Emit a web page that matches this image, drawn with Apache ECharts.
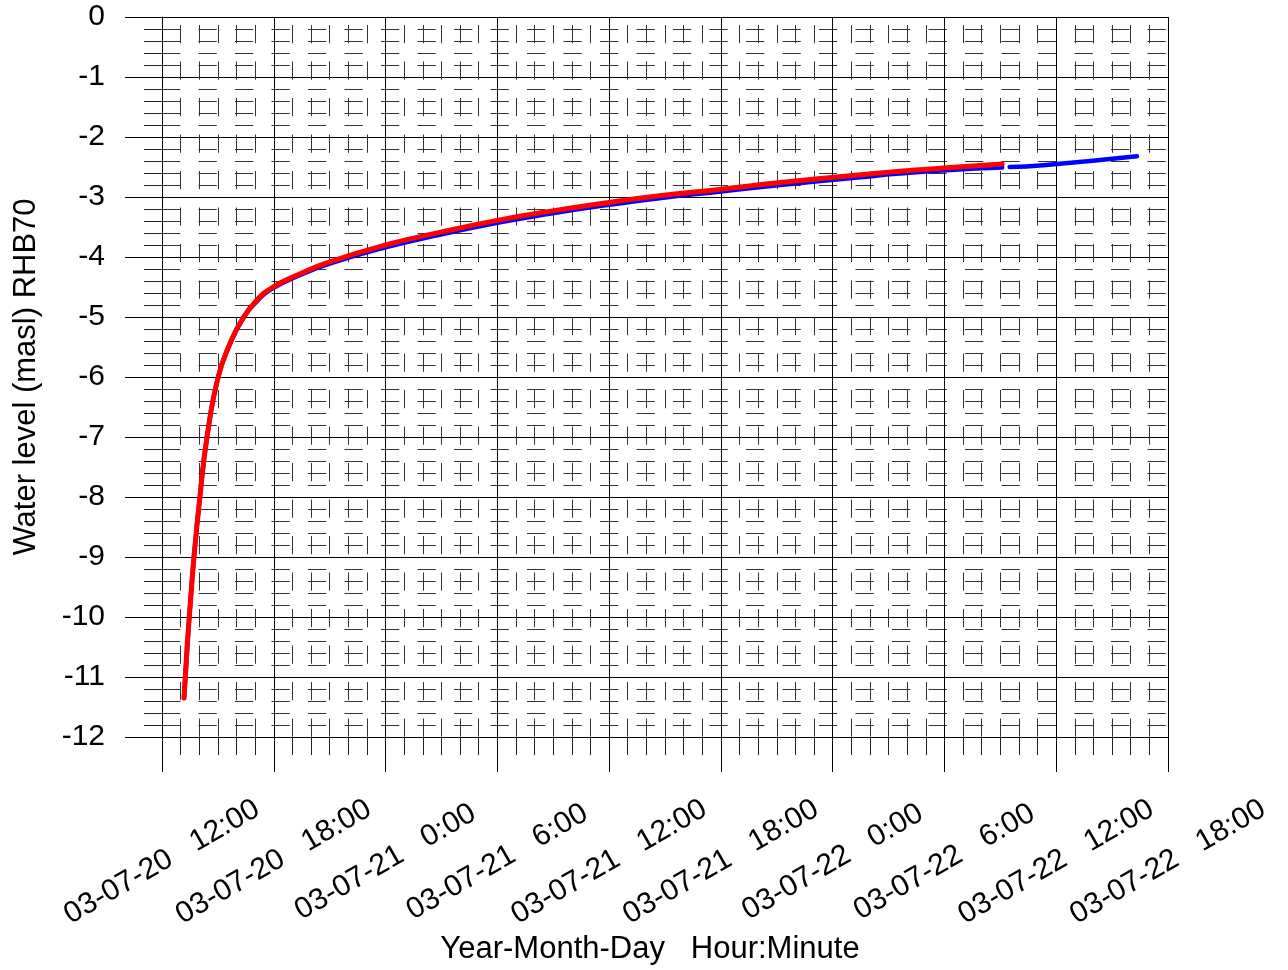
<!DOCTYPE html>
<html>
<head>
<meta charset="utf-8">
<script src="https://cdn.jsdelivr.net/npm/echarts@6/dist/echarts.min.js"></script>
<style>
html,body{margin:0;padding:0;background:#fff;}
#chart{width:1288px;height:970px;}
</style>
</head>
<body>
<div id="chart"></div>
<script>
// ---- data ----
var xTickLabels = [
  '03-07-20   12:00', '03-07-20   18:00', '03-07-21   0:00', '03-07-21   6:00',
  '03-07-21   12:00', '03-07-21   18:00', '03-07-22   0:00', '03-07-22   6:00',
  '03-07-22   12:00', '03-07-22   18:00'
];
var redTimes = [
  '2003-07-20 13:11', '2003-07-20 13:21', '2003-07-20 13:32', '2003-07-20 13:43',
  '2003-07-20 14:02', '2003-07-20 14:25', '2003-07-20 15:01', '2003-07-20 15:39',
  '2003-07-20 16:17', '2003-07-20 17:05', '2003-07-20 17:58', '2003-07-20 19:25',
  '2003-07-20 21:00', '2003-07-21 00:00', '2003-07-21 02:54', '2003-07-21 06:00',
  '2003-07-21 08:48', '2003-07-21 12:00', '2003-07-21 14:42', '2003-07-21 18:00',
  '2003-07-21 21:12', '2003-07-22 01:30', '2003-07-22 03:36', '2003-07-22 06:18',
  '2003-07-22 09:06'
];
var redLevels = [
  -11.35, -10.5, -9.72, -9.0, -8.0, -7.0, -6.0, -5.44, -5.05, -4.72, -4.50, -4.28,
  -4.08, -3.80, -3.59, -3.39, -3.24, -3.09, -2.98, -2.87, -2.76, -2.63, -2.57, -2.51,
  -2.45
];
var blueTimes = [
  '2003-07-20 13:11', '2003-07-20 13:21', '2003-07-20 13:32', '2003-07-20 13:43',
  '2003-07-20 14:02', '2003-07-20 14:25', '2003-07-20 15:01', '2003-07-20 15:39',
  '2003-07-20 16:17', '2003-07-20 17:05', '2003-07-20 17:58', '2003-07-20 19:25',
  '2003-07-20 21:00', '2003-07-21 00:00', '2003-07-21 02:54', '2003-07-21 06:00',
  '2003-07-21 08:48', '2003-07-21 12:00', '2003-07-21 14:42', '2003-07-21 18:00',
  '2003-07-21 21:12', '2003-07-22 01:30', '2003-07-22 03:36', '2003-07-22 06:18',
  '2003-07-22 09:06', '2003-07-22 09:18', '2003-07-22 09:30', '2003-07-22 11:18',
  '2003-07-22 16:20'
];
var blueLevels = [
  -11.35, -10.5, -9.72, -9.0, -8.0, -7.0, -6.0, -5.45, -5.06, -4.74, -4.52, -4.30,
  -4.11, -3.84, -3.63, -3.43, -3.28, -3.13, -3.02, -2.91, -2.80, -2.67, -2.61, -2.55,
  -2.51, null, -2.50, -2.47, -2.32
];
var axisStart = '2003-07-20 12:00';
var axisHours = 54;
var tickHours = 6;

// ---- helpers ----
function toHours(s) {
  var p = s.split(/[- :]/).map(Number);
  var b = axisStart.split(/[- :]/).map(Number);
  var t = Date.UTC(p[0], p[1] - 1, p[2], p[3], p[4]);
  var t0 = Date.UTC(b[0], b[1] - 1, b[2], b[3], b[4]);
  return (t - t0) / 3600000;
}
function pairs(times, vals) {
  return times.map(function (t, i) { return [toHours(t), vals[i]]; });
}

var FONT = 'Liberation Sans, Arial, sans-serif';
var chart = echarts.init(document.getElementById('chart'), null, {renderer: 'canvas'});
chart.setOption({
  animation: false,
  backgroundColor: '#fff',
  grid: {left: 162, top: 17, right: 120, bottom: 233},
  xAxis: {
    type: 'value',
    min: 0, max: axisHours, interval: tickHours,
    name: 'Year-Month-Day   Hour:Minute',
    nameLocation: 'middle',
    nameGap: 197,
    nameMoveOverlap: false,
    nameTextStyle: {color: '#000', fontSize: 31, fontFamily: FONT, padding: [0, 30, 0, 0]},
    axisLine: {show: true, onZero: false, lineStyle: {color: '#000', width: 1}},
    axisTick: {show: true, length: 35, lineStyle: {color: '#000', width: 1}},
    minorTick: {show: true, splitNumber: 6, length: 18, lineStyle: {color: '#222', width: 1}},
    splitLine: {show: true, lineStyle: {color: '#000', width: 1}},
    minorSplitLine: {show: true, lineStyle: {color: '#333', width: 1, type: [18.25, 18.25], dashOffset: 28.5}},
    axisLabel: {
      interval: 0, showMinLabel: true, showMaxLabel: true,
      rotate: 30, align: 'center', verticalAlign: 'middle', margin: 125,
      color: '#000', fontSize: 30, fontFamily: FONT,
      formatter: function (v) { return xTickLabels[Math.round(v / tickHours)] || ''; }
    }
  },
  yAxis: {
    type: 'value',
    min: -12, max: 0, interval: 1,
    name: 'Water level (masl) RHB70',
    nameLocation: 'middle',
    nameGap: 120,
    nameMoveOverlap: false,
    nameTextStyle: {color: '#000', fontSize: 31, fontFamily: FONT},
    axisLine: {show: true, onZero: false, lineStyle: {color: '#000', width: 1}},
    axisTick: {show: true, length: 37, lineStyle: {color: '#000', width: 1}},
    minorTick: {show: true, splitNumber: 5, length: 18, lineStyle: {color: '#222', width: 1}},
    splitLine: {show: true, lineStyle: {color: '#000', width: 1}},
    minorSplitLine: {show: true, lineStyle: {color: '#333', width: 1, type: [18.25, 18.25], dashOffset: 0}},
    axisLabel: {margin: 57, color: '#000', fontSize: 30, fontFamily: FONT}
  },
  series: [
    {
      name: 'blue', type: 'line', data: pairs(blueTimes, blueLevels),
      showSymbol: false, smooth: 0.5, connectNulls: false,
      lineStyle: {color: '#0000ff', width: 4.5, cap: 'round', join: 'round'}
    },
    {
      name: 'red', type: 'line', data: pairs(redTimes, redLevels),
      showSymbol: false, smooth: 0.5,
      lineStyle: {color: '#ff0000', width: 5, cap: 'round', join: 'round'}
    }
  ]
});
</script>
</body>
</html>
